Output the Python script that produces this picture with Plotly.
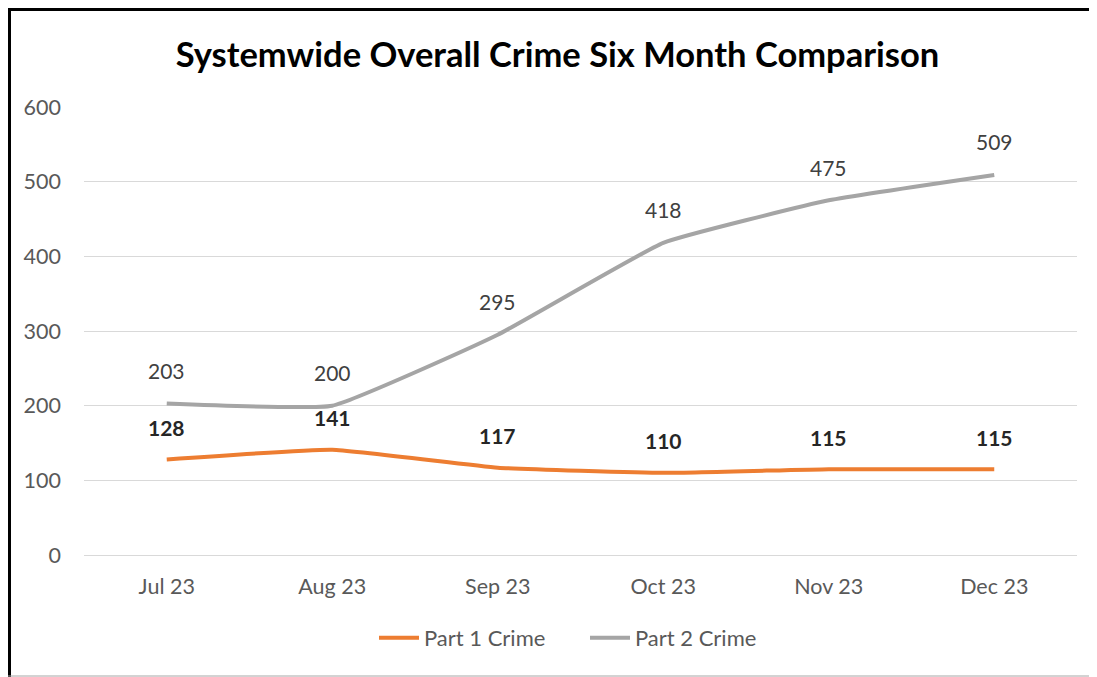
"""Systemwide overall crime, six month comparison line chart."""

import plotly.graph_objects as go

MONTHS = ["Jul 23", "Aug 23", "Sep 23", "Oct 23", "Nov 23", "Dec 23"]
PART1_CRIME = [128, 141, 117, 110, 115, 115]
PART2_CRIME = [203, 200, 295, 418, 475, 509]

ORANGE = "#ED7D31"
GRAY = "#A5A5A5"
TEXT_MUTED = "#595959"
FONT = "Lato, Open Sans, sans-serif"

# the page puts the figure 8px in from the top-left corner of the window
W, H = 1081, 669
L, R, T, B = 76, 12, 99, 122
PW, PH = W - L - R, H - T - B


def px_x(x):
    return (x - L) / PW


def px_y(y):
    return (H - B - y) / PH


fig = go.Figure()
fig.add_trace(
    go.Scatter(
        x=MONTHS,
        y=PART1_CRIME,
        name="Part 1 Crime",
        mode="lines",
        line=dict(color=ORANGE, width=4, shape="spline", smoothing=0.35),
    )
)
fig.add_trace(
    go.Scatter(
        x=MONTHS,
        y=PART2_CRIME,
        name="Part 2 Crime",
        mode="lines",
        line=dict(color=GRAY, width=4, shape="spline", smoothing=0.35),
    )
)

for month, value in zip(MONTHS, PART2_CRIME):
    fig.add_annotation(
        x=month, y=value, text=str(value), showarrow=False, yshift=33,
        font=dict(size=21, color="#404040", family=FONT),
    )
for month, value in zip(MONTHS, PART1_CRIME):
    fig.add_annotation(
        x=month, y=value, text=f"<b>{value}</b>", showarrow=False, yshift=32,
        font=dict(size=21, color="#262626", family=FONT),
    )

frame = dict(type="line", xref="paper", yref="paper", layer="above")
fig.add_shape(**frame, x0=px_x(1.5), x1=px_x(1.5), y0=px_y(0), y1=px_y(H),
              line=dict(color="black", width=3))
fig.add_shape(**frame, x0=px_x(0), x1=px_x(W), y0=px_y(1.5), y1=px_y(1.5),
              line=dict(color="black", width=3))
fig.add_shape(**frame, x0=px_x(0), x1=px_x(W), y0=px_y(668), y1=px_y(668),
              line=dict(color="#A6A6A6", width=1))

fig.update_layout(
    width=W,
    height=H,
    paper_bgcolor="white",
    plot_bgcolor="white",
    font=dict(family=FONT, color=TEXT_MUTED, size=21),
    margin=dict(l=L, r=R, t=T, b=B),
    title=dict(
        text="<b>Systemwide Overall Crime Six Month Comparison</b>",
        xref="container", x=549.5 / W, xanchor="center",
        y=1 - 47 / H, yanchor="middle",
        font=dict(size=34.5, color="black", family=FONT),
    ),
    xaxis=dict(
        range=[-0.5, 5.5], showgrid=False, showline=False, ticks="",
        ticklabelstandoff=16, tickfont=dict(size=21.5, color=TEXT_MUTED),
    ),
    yaxis=dict(
        range=[0, 600], dtick=100, gridcolor="#D9D9D9", gridwidth=1,
        zeroline=True, zerolinecolor="#D9D9D9", zerolinewidth=1,
        showline=False, ticks="", ticklabelstandoff=22,
        tickfont=dict(size=21.5, color=TEXT_MUTED),
    ),
    legend=dict(
        orientation="h", x=px_x(366), xanchor="left",
        y=px_y(630), yanchor="middle", entrywidth=156, entrywidthmode="pixels",
        font=dict(size=22, color=TEXT_MUTED), itemwidth=40,
    ),
    showlegend=True,
)

fig.write_html("out.html")
